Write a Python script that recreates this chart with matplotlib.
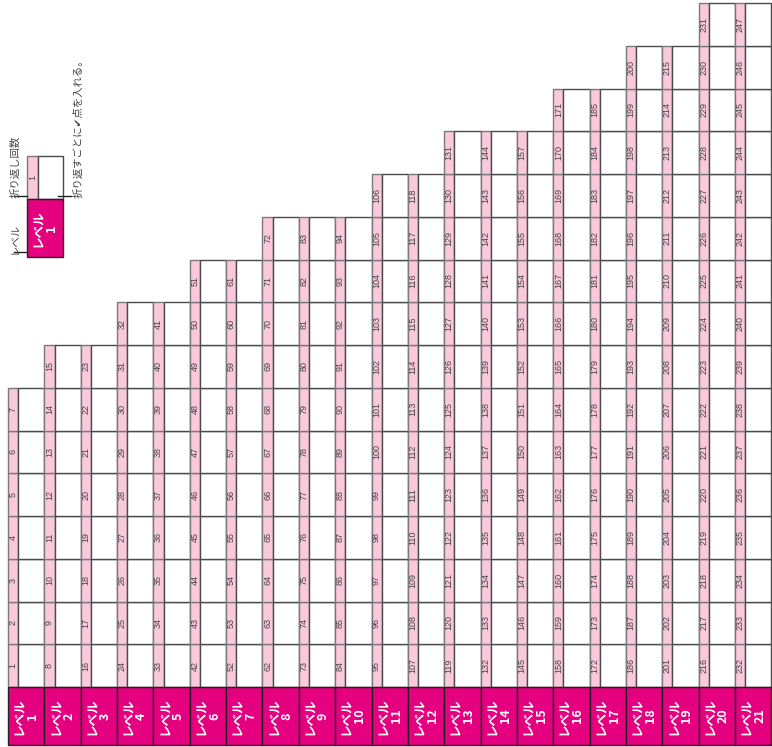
import matplotlib
matplotlib.use("Agg")
import matplotlib.pyplot as plt
from matplotlib.patches import Rectangle
import numpy as np

plt.rcParams['font.family'] = ['Noto Sans CJK JP', 'DejaVu Sans']

# data: level number and how many fold-back cells each level has
levels = list(range(1, 22))
cell_counts = [7, 8, 8, 9, 9, 10, 10, 11, 11, 11, 12, 12, 13, 13, 13, 14, 14, 15, 15, 16, 16]
first_numbers = np.concatenate([[1], np.cumsum(cell_counts)[:-1] + 1])

header_label = "レベル"
legend_count_label = "折り返し回数"
legend_check_label = "折り返すごとに✔点を入れる。"

# colours / sizes
MAGENTA = "#E4007F"
PINK = "#FBC8DC"
EDGE = "#4a4a4a"
TXT = "#444444"
strip_w = 0.28      # pink number strip, fraction of a column
header_h = 1.357    # header height in row units

# pixel layout -> data units (1 column = 36.35 px, 1 row = 42.75 px)
col_px, row_px = 36.35, 42.75
x0_px, y0_px = 8, 687

fig = plt.figure(figsize=(7.72, 7.47), dpi=100)
ax = fig.add_axes([0, 0, 1, 1])
ax.set_xlim(-x0_px / col_px, (772 - x0_px) / col_px)
ax.set_ylim((y0_px - 747) / row_px, y0_px / row_px)
ax.axis('off')


def draw_column(x, y, n_cells, start, label, strip=strip_w):
    # header block
    ax.add_patch(Rectangle((x, y - header_h), 1, header_h, facecolor=MAGENTA,
                           edgecolor="#222222", lw=1, zorder=2))
    ax.text(x + 0.5, y - header_h / 2, f"{header_label}\n{label}", rotation=90,
            ha='center', va='center', ma='center', color='white',
            fontsize=9, fontweight='bold', linespacing=1.0, zorder=3)
    for k in range(n_cells):
        yy = y + k
        ax.add_patch(Rectangle((x, yy), strip, 1, facecolor=PINK,
                               edgecolor="#7a7a7a", lw=1, zorder=1))
        ax.add_patch(Rectangle((x + strip, yy), 1 - strip, 1, facecolor='white',
                               edgecolor=EDGE, lw=1, zorder=1))
        ax.text(x + strip / 2, yy + 0.5, str(start + k), rotation=90,
                ha='center', va='center', color=TXT, fontsize=6.5,
                family='Liberation Sans', zorder=3)


for i, (lv, n, s) in enumerate(zip(levels, cell_counts, first_numbers)):
    draw_column(i, 0, n, s, lv)

# legend / explanation in the top-left corner
lx, ly = 0.523, 10.06
draw_column(lx, ly + header_h, 1, 1, 1, strip=0.30)

tick_y1 = ly + 0.12
tick_y2 = ly + header_h + 0.07
ax.plot([lx - 0.35, lx], [tick_y1, tick_y1], color='#222222', lw=1)
ax.plot([lx - 0.35, lx], [tick_y2, tick_y2], color='#222222', lw=1)
ax.plot([lx + 0.85, lx + 1.2], [tick_y2, tick_y2], color='#222222', lw=1)

ax.text(lx - 0.31, ly + 0.08, header_label, rotation=90, ha='center', va='bottom',
        color=TXT, fontsize=7.5)
ax.text(lx - 0.31, tick_y2 - 0.05, legend_count_label, rotation=90, ha='center',
        va='bottom', color=TXT, fontsize=7.5)
ax.text(lx + 1.41, tick_y2 - 0.05, legend_check_label, rotation=90, ha='center',
        va='bottom', color=TXT, fontsize=7.5)

fig.savefig("out.png", dpi=100)
